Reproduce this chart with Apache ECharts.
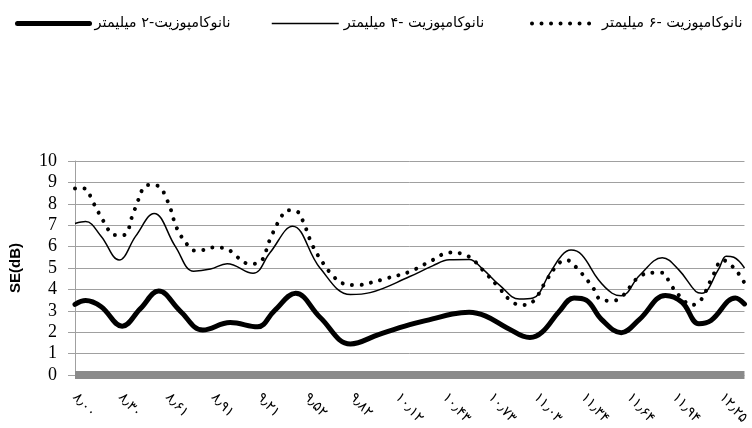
<!DOCTYPE html>
<html>
<head>
<meta charset="utf-8">
<script src="https://cdn.jsdelivr.net/npm/echarts@6/dist/echarts.min.js"></script>
<style>
  html, body { margin: 0; padding: 0; background: #fff; }
  #chart { width: 752px; height: 428px; }
</style>
</head>
<body>
<div id="chart"></div>
<script>
// Shielding effectiveness (dB) over the X band, three nanocomposite thicknesses.
const seriesNames = [
  'نانوکامپوزیت-۲ میلیمتر',
  'نانوکامپوزیت -۴ میلیمتر',
  'نانوکامپوزیت -۶ میلیمتر'
];

// Frequency tick labels (GHz)
const freqTicks = [8.00, 8.30, 8.61, 8.91, 9.21, 9.52, 9.82, 10.12, 10.43, 10.73, 11.03, 11.34, 11.64, 11.94, 12.25];

// [frequency GHz, SE dB]
const se2mm = [
  [8.00, 3.30], [8.07, 3.48], [8.17, 3.20], [8.31, 2.28], [8.43, 3.10], [8.55, 3.92],
  [8.69, 3.00], [8.84, 2.10], [9.02, 2.45], [9.20, 2.25], [9.31, 3.00], [9.45, 3.82],
  [9.61, 2.70], [9.81, 1.45], [10.00, 1.90], [10.20, 2.35], [10.35, 2.62], [10.48, 2.85],
  [10.59, 2.93], [10.70, 2.75], [10.84, 2.20], [10.99, 1.75], [11.07, 2.00], [11.18, 2.95],
  [11.28, 3.60], [11.36, 3.50], [11.46, 2.60], [11.59, 1.98], [11.71, 2.60], [11.88, 3.72],
  [11.99, 3.40], [12.10, 2.40], [12.18, 2.55], [12.34, 3.60], [12.40, 3.32]
];

const se4mm = [
  [8.00, 7.08], [8.07, 7.17], [8.17, 6.50], [8.29, 5.37], [8.40, 6.50], [8.52, 7.55],
  [8.66, 6.00], [8.78, 4.85], [8.89, 4.95], [9.00, 5.20], [9.17, 4.75], [9.28, 5.70],
  [9.43, 6.95], [9.61, 5.00], [9.81, 3.76], [9.94, 3.85], [10.20, 4.60], [10.35, 5.10],
  [10.46, 5.38], [10.59, 5.40], [10.68, 4.95], [10.79, 4.20], [10.92, 3.55], [11.01, 3.60],
  [11.12, 4.75], [11.20, 5.60], [11.26, 5.84], [11.33, 5.62], [11.44, 4.45], [11.53, 3.82],
  [11.59, 3.70], [11.71, 4.65], [11.86, 5.48], [11.97, 4.90], [12.08, 3.90], [12.12, 3.82],
  [12.23, 4.95], [12.28, 5.55], [12.33, 5.50], [12.40, 5.00]
];

const se6mm = [
  [8.00, 8.72], [8.06, 8.72], [8.12, 8.05], [8.19, 7.16], [8.26, 6.54], [8.32, 6.54],
  [8.39, 7.70], [8.48, 8.88], [8.54, 8.85], [8.61, 8.10], [8.67, 6.85], [8.74, 6.07],
  [8.78, 5.82], [8.84, 5.84], [8.91, 5.96], [9.00, 5.90], [9.05, 5.60], [9.15, 5.19],
  [9.22, 5.30], [9.28, 6.31], [9.35, 7.32], [9.40, 7.70], [9.46, 7.64], [9.50, 7.16],
  [9.56, 6.07], [9.63, 5.23], [9.70, 4.60], [9.76, 4.28], [9.86, 4.20], [9.94, 4.31],
  [10.05, 4.52], [10.20, 4.83], [10.35, 5.37], [10.46, 5.72], [10.57, 5.60], [10.70, 4.75],
  [10.79, 4.05], [10.87, 3.43], [10.94, 3.27], [11.01, 3.43], [11.10, 4.44], [11.18, 5.22],
  [11.23, 5.37], [11.29, 5.06], [11.40, 4.13], [11.46, 3.50], [11.53, 3.47], [11.59, 3.63],
  [11.71, 4.60], [11.82, 4.78], [11.86, 4.78], [11.92, 4.16], [12.00, 3.50], [12.05, 3.27],
  [12.11, 3.47], [12.18, 4.44], [12.26, 5.37], [12.31, 5.14], [12.36, 4.75], [12.40, 4.30]
];

const persianDigits = '۰۱۲۳۴۵۶۷۸۹';
function toPersian(v) {
  return v.toFixed(2).replace(/\d/g, d => persianDigits[d]).replace('.', '٫');
}

const thickStyle = { color: '#000', width: 5, type: 'solid', cap: 'round' };
const thinStyle = { color: '#000', width: 1.5, type: 'solid', cap: 'butt' };
const dotStyle = { color: '#000', width: 4, type: [0.01, 9.5], cap: 'round' };

const legendText = { fontFamily: 'DejaVu Sans', fontSize: 14.5, color: '#000' };
function legendFor(name, left, width, style) {
  return {
    left: left, top: 16,
    padding: 0,
    itemWidth: width, itemHeight: 14,
    itemGap: 0,
    textStyle: legendText,
    selectedMode: false,
    itemStyle: { opacity: 0 },
    lineStyle: style,
    data: [name]
  };
}

const chart = echarts.init(document.getElementById('chart'), null, { renderer: 'canvas' });
chart.setOption({
  animation: false,
  backgroundColor: '#fff',
  legend: [
    legendFor(seriesNames[0], 15, 72, thickStyle),
    legendFor(seriesNames[1], 271, 67, thinStyle),
    legendFor(seriesNames[2], 530, 65, dotStyle)
  ],
  grid: { left: 74, right: 6, top: 161, bottom: 53 },
  xAxis: {
    type: 'value',
    min: 8.0, max: 12.4,
    offset: 4,
    axisLine: { show: true, lineStyle: { color: '#8a8a8a', width: 8, cap: 'butt' } },
    axisTick: { show: false },
    splitLine: { show: false },
    axisLabel: {
      customValues: freqTicks,
      formatter: toPersian,
      rotate: -48,
      margin: 16,
      fontFamily: 'DejaVu Sans',
      fontSize: 14,
      color: '#000'
    }
  },
  yAxis: {
    type: 'value',
    min: 0, max: 10, interval: 1,
    name: 'SE(dB)',
    nameLocation: 'middle',
    nameGap: 52,
    nameTextStyle: { fontFamily: 'Liberation Sans', fontWeight: 'bold', fontSize: 15, color: '#000' },
    axisLine: { show: true, lineStyle: { color: '#a0a0a0', width: 1 } },
    axisTick: { show: true, length: 7, lineStyle: { color: '#a0a0a0' } },
    splitLine: { show: true, lineStyle: { color: '#a0a0a0', width: 1 } },
    axisLabel: { margin: 18, fontFamily: 'Liberation Serif', fontSize: 18, color: '#000' }
  },
  series: [
    { name: seriesNames[0], type: 'line', data: se2mm, smooth: 0.4, symbol: 'none', lineStyle: thickStyle, z: 3 },
    { name: seriesNames[1], type: 'line', data: se4mm, smooth: 0.4, symbol: 'none', lineStyle: thinStyle, z: 3 },
    { name: seriesNames[2], type: 'line', data: se6mm, smooth: 0.4, symbol: 'none', lineStyle: dotStyle, z: 3 }
  ]
});
</script>
</body>
</html>
